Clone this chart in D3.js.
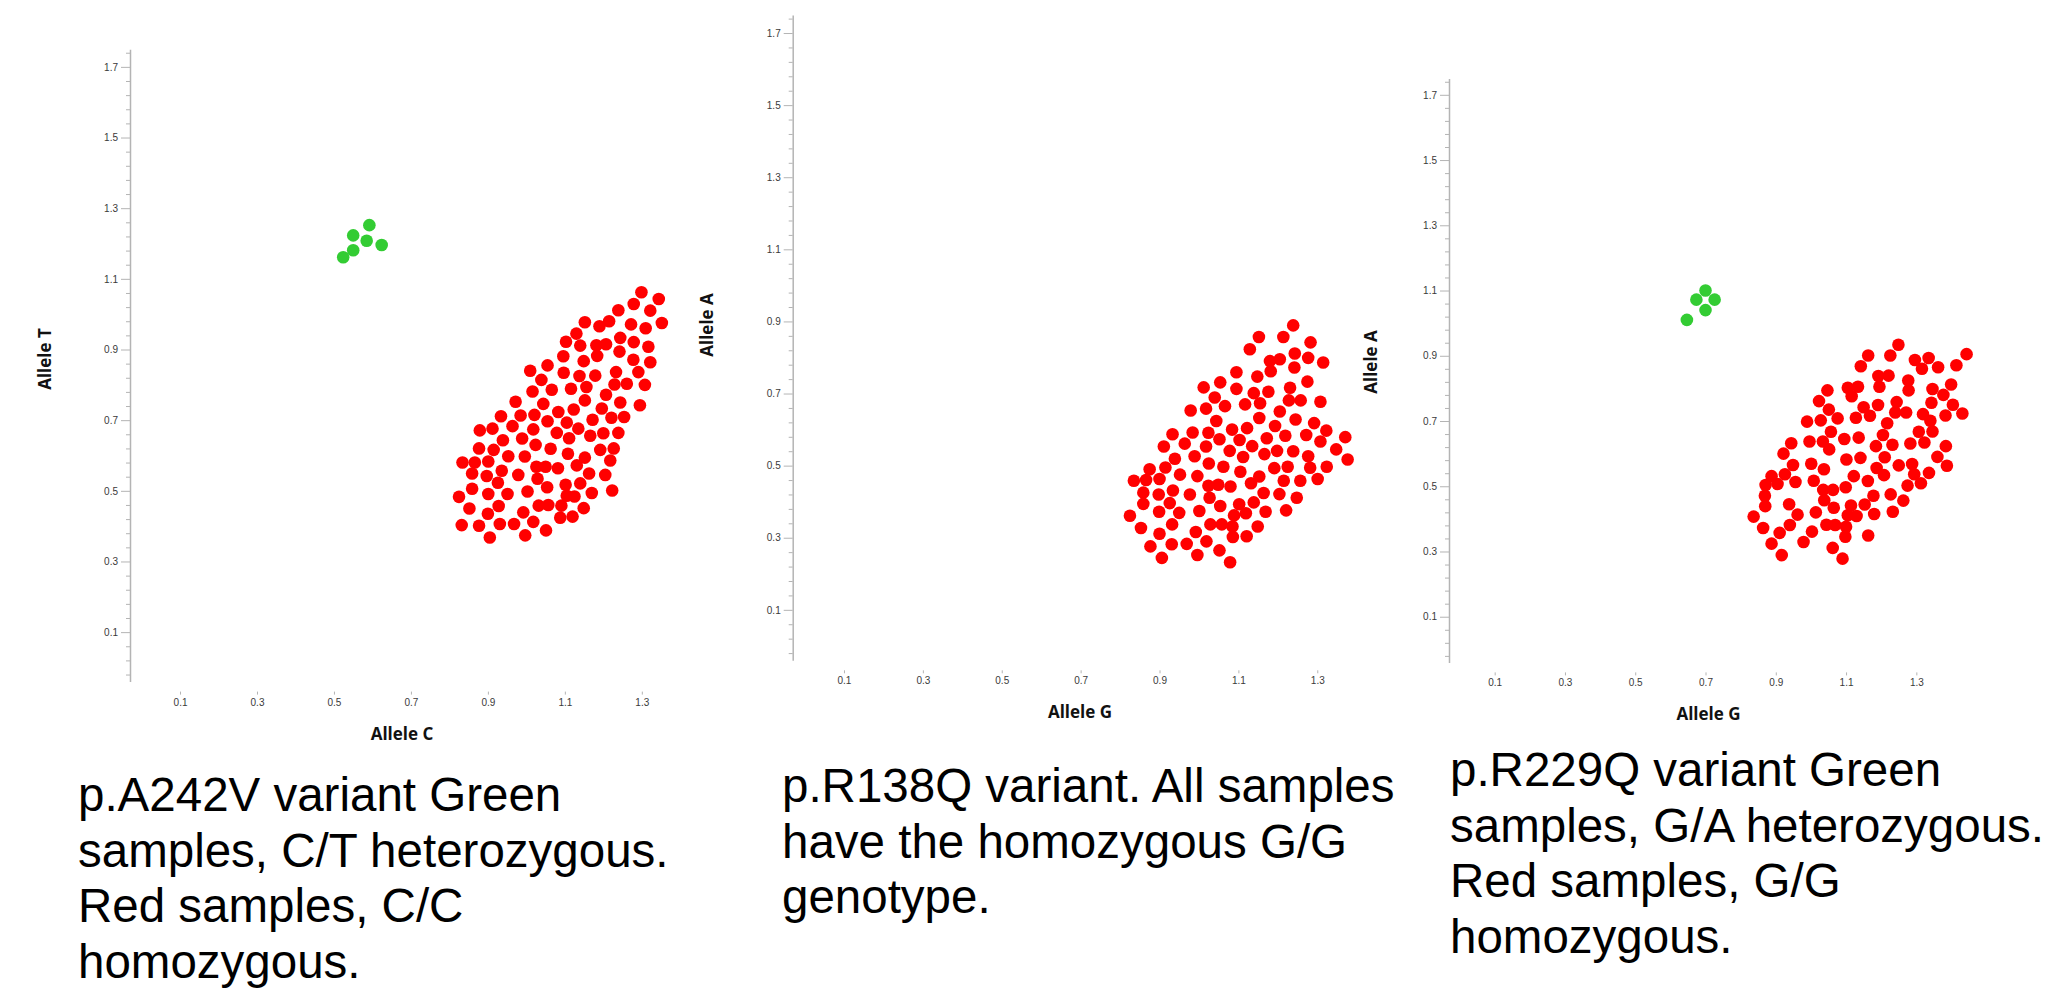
<!DOCTYPE html>
<html>
<head>
<meta charset="utf-8">
<script src="https://cdn.jsdelivr.net/npm/d3@7"></script>
<style>
body { margin: 0; background: #fff; }
</style>
</head>
<body>
<div id="chart"></div>
<script>
// axis settings shared by the three genotype plots
var xDomain = [-0.03, 1.42];
var yDomain = [-0.04, 1.75];
var xTickValues = [0.1, 0.3, 0.5, 0.7, 0.9, 1.1, 1.3];
var yTickValues = [0.1, 0.3, 0.5, 0.7, 0.9, 1.1, 1.3, 1.5, 1.7];

// p.A242V  (Allele C vs Allele T)
var a242vGreen = [[0.592,1.252],[0.550,1.223],[0.585,1.208],[0.624,1.196],[0.550,1.181],[0.524,1.161]];
var a242vRed = [
  [1.299,1.062],[1.344,1.043],[1.279,1.029],[1.239,1.011],[1.322,1.010],[1.152,0.977],[1.190,0.966],
  [1.215,0.980],[1.272,0.971],[1.310,0.960],[1.352,0.975],[1.130,0.945],[1.103,0.922],[1.140,0.911],
  [1.182,0.912],[1.207,0.915],[1.244,0.933],[1.279,0.921],[1.317,0.908],[1.096,0.881],[1.149,0.867],
  [1.184,0.882],[1.242,0.894],[1.278,0.871],[1.322,0.864],[1.055,0.855],[1.010,0.840],[1.097,0.834],
  [1.138,0.825],[1.179,0.826],[1.233,0.836],[1.291,0.836],[1.039,0.814],[1.016,0.781],[1.066,0.786],
  [1.116,0.789],[1.156,0.794],[1.207,0.772],[1.229,0.801],[1.261,0.803],[1.308,0.800],[0.972,0.752],
  [1.044,0.746],[1.123,0.730],[1.152,0.756],[1.196,0.733],[1.244,0.750],[1.295,0.742],[0.934,0.711],
  [0.985,0.713],[1.021,0.715],[1.055,0.697],[1.083,0.723],[1.105,0.693],[1.172,0.701],[1.221,0.707],
  [1.254,0.709],[0.879,0.671],[0.912,0.676],[0.964,0.683],[1.018,0.674],[1.079,0.664],[1.111,0.649],
  [1.135,0.676],[1.166,0.656],[1.200,0.663],[1.239,0.664],[0.989,0.648],[1.024,0.630],[0.877,0.620],
  [0.915,0.616],[0.939,0.643],[0.953,0.598],[0.996,0.597],[1.063,0.619],[1.108,0.605],[1.152,0.594],
  [1.192,0.616],[1.227,0.620],[0.834,0.580],[0.866,0.580],[0.901,0.583],[0.859,0.549],[0.897,0.542],
  [0.936,0.557],[0.979,0.545],[1.026,0.568],[1.050,0.568],[1.082,0.564],[1.131,0.572],[1.163,0.549],
  [1.205,0.545],[1.218,0.586],[0.926,0.523],[1.029,0.534],[1.054,0.510],[1.102,0.517],[1.140,0.521],
  [0.859,0.506],[0.901,0.491],[0.951,0.491],[1.003,0.498],[1.105,0.486],[1.170,0.494],[1.223,0.501],
  [0.825,0.483],[0.852,0.450],[0.928,0.457],[0.992,0.439],[1.032,0.458],[1.057,0.460],[1.091,0.458],
  [1.125,0.484],[0.900,0.435],[1.088,0.424],[1.120,0.427],[1.149,0.451],[0.832,0.403],[0.877,0.401],
  [0.931,0.406],[0.968,0.406],[1.018,0.412],[0.905,0.368],[0.997,0.374],[1.051,0.388]
];

// p.R138Q  (Allele G vs Allele A)
var r138qGreen = [];
var r138qRed = [
  [1.239,0.889],[1.152,0.857],[1.214,0.857],[1.283,0.842],[1.129,0.823],[1.243,0.811],[1.180,0.790],
  [1.205,0.795],[1.277,0.799],[1.315,0.786],[1.095,0.759],[1.148,0.747],[1.242,0.772],[1.182,0.762],
  [1.054,0.731],[1.012,0.717],[1.095,0.713],[1.139,0.701],[1.176,0.705],[1.231,0.716],[1.275,0.733],
  [1.040,0.689],[1.117,0.670],[1.155,0.673],[1.228,0.681],[1.258,0.681],[1.308,0.677],[1.066,0.665],
  [0.979,0.653],[1.018,0.658],[1.205,0.650],[1.044,0.624],[1.153,0.632],[1.245,0.628],[1.292,0.618],
  [1.193,0.610],[0.933,0.587],[0.984,0.592],[1.024,0.591],[1.084,0.600],[1.122,0.604],[1.219,0.583],
  [1.272,0.585],[1.323,0.597],[0.911,0.553],[0.964,0.561],[1.018,0.553],[1.052,0.573],[1.103,0.571],
  [1.135,0.554],[1.172,0.576],[1.308,0.567],[1.371,0.579],[1.348,0.545],[0.939,0.519],[0.989,0.526],
  [1.078,0.541],[1.112,0.524],[1.166,0.532],[1.198,0.541],[1.239,0.540],[1.277,0.526],[1.377,0.517],
  [0.875,0.490],[0.915,0.495],[0.952,0.475],[1.025,0.506],[1.062,0.497],[1.105,0.483],[1.153,0.470],
  [1.191,0.493],[1.225,0.497],[1.282,0.494],[1.324,0.497],[0.835,0.458],[0.866,0.460],[0.900,0.463],
  [0.996,0.471],[1.024,0.444],[1.049,0.447],[1.132,0.451],[1.215,0.458],[1.257,0.458],[1.301,0.463],
  [0.859,0.425],[0.898,0.420],[0.934,0.431],[0.977,0.420],[1.027,0.411],[1.080,0.442],[1.164,0.424],
  [1.204,0.421],[1.248,0.411],[0.859,0.394],[0.926,0.396],[1.054,0.388],[1.102,0.393],[1.139,0.398],
  [1.169,0.372],[0.825,0.361],[0.899,0.372],[0.950,0.369],[1.001,0.374],[1.089,0.362],[1.119,0.368],
  [1.221,0.376],[0.932,0.337],[1.029,0.337],[1.058,0.337],[1.085,0.331],[1.149,0.331],[0.853,0.327],
  [0.900,0.311],[0.992,0.316],[1.086,0.302],[1.121,0.304],[0.877,0.276],[0.931,0.282],[0.969,0.283],
  [1.019,0.290],[1.052,0.265],[0.906,0.244],[0.996,0.252],[1.079,0.232]
];

// p.R229Q  (Allele G vs Allele A)
var r229qGreen = [[0.700,1.100],[0.674,1.072],[0.726,1.072],[0.700,1.040],[0.647,1.010]];
var r229qRed = [
  [1.249,0.934],[1.163,0.901],[1.226,0.901],[1.296,0.887],[1.335,0.893],[1.443,0.905],[1.142,0.868],
  [1.362,0.865],[1.414,0.871],[1.192,0.838],[1.221,0.839],[1.277,0.824],[1.316,0.860],[1.105,0.802],
  [1.134,0.805],[1.195,0.805],[1.278,0.794],[1.399,0.812],[1.047,0.794],[1.346,0.798],[1.023,0.761],
  [1.116,0.776],[1.150,0.742],[1.244,0.758],[1.377,0.780],[1.051,0.735],[1.191,0.749],[1.343,0.756],
  [1.404,0.750],[0.989,0.698],[1.028,0.702],[1.076,0.708],[1.128,0.710],[1.168,0.716],[1.217,0.693],
  [1.240,0.726],[1.271,0.726],[1.319,0.721],[1.383,0.717],[1.431,0.723],[1.057,0.667],[1.340,0.701],
  [1.307,0.667],[1.346,0.668],[0.944,0.632],[0.996,0.637],[1.034,0.637],[1.052,0.613],[1.095,0.645],
  [1.136,0.649],[1.185,0.623],[1.205,0.657],[1.232,0.627],[1.283,0.631],[1.323,0.634],[1.384,0.623],
  [0.922,0.600],[1.001,0.569],[1.037,0.552],[1.101,0.582],[1.141,0.587],[1.210,0.589],[1.187,0.556],
  [1.250,0.564],[1.288,0.568],[1.360,0.590],[1.387,0.563],[0.949,0.565],[0.926,0.537],[0.888,0.531],
  [0.956,0.513],[1.008,0.517],[1.122,0.531],[1.162,0.516],[1.208,0.534],[1.294,0.537],[1.336,0.541],
  [1.313,0.509],[0.871,0.504],[0.905,0.507],[1.035,0.489],[1.063,0.489],[1.099,0.497],[1.178,0.471],
  [1.227,0.475],[1.275,0.502],[0.869,0.471],[0.870,0.439],[0.938,0.445],[1.038,0.457],[1.065,0.434],
  [1.114,0.441],[1.153,0.444],[0.962,0.413],[1.014,0.420],[1.105,0.411],[1.130,0.409],[1.180,0.415],
  [1.233,0.422],[1.263,0.456],[0.837,0.407],[0.864,0.372],[0.940,0.381],[1.044,0.382],[1.069,0.381],
  [1.100,0.376],[1.003,0.361],[0.911,0.357],[1.163,0.349],[1.098,0.345],[0.888,0.324],[0.979,0.329],
  [1.062,0.311],[0.917,0.289],[1.090,0.278]
];

var captionA242V = ["p.A242V variant Green", "samples, C/T heterozygous.", "Red samples, C/C", "homozygous."];
var captionR138Q = ["p.R138Q variant. All samples", "have the homozygous G/G", "genotype."];
var captionR229Q = ["p.R229Q variant Green", "samples, G/A heterozygous.", "Red samples, G/G", "homozygous."];

var panels = [
  {xLabel: "Allele C", yLabel: "Allele T", red: a242vRed, green: a242vGreen, caption: captionA242V,
   left: 130, right: 688, bottom: 681.6, top: 49.2,
   xLabelX: 402, yLabelX: 45, yLabelY: 359, captionX: 78, captionY: 811},
  {xLabel: "Allele G", yLabel: "Allele A", red: r138qRed, green: r138qGreen, caption: captionR138Q,
   left: 792.7, right: 1364.6, bottom: 660.3, top: 15,
   xLabelX: 1080, yLabelX: 707, yLabelY: 325, captionX: 782, captionY: 802},
  {xLabel: "Allele G", yLabel: "Allele A", red: r229qRed, green: r229qGreen, caption: captionR229Q,
   left: 1449, right: 1958.5, bottom: 662.4, top: 78.5,
   xLabelX: 1708.5, yLabelX: 1371, yLabelY: 362, captionX: 1450, captionY: 786}
];

var svgWidth = 2060;
var svgHeight = 989;
var dotRadius = 6.3;
var lineGap = 55.5;
var axisGrey = "#b4b4b4";

var svg = d3.select("#chart")
    .append("svg")
    .attr("width", svgWidth)
    .attr("height", svgHeight);

var minorValues = d3.range(-0.02, 1.76, 0.04).filter(function(v) {
  return !yTickValues.some(function(t) { return Math.abs(t - v) < 0.001; });
});

panels.forEach(function(p) {
  var g = svg.append("g");

  var xScale = d3.scaleLinear().domain(xDomain).range([p.left, p.right]);
  var yScale = d3.scaleLinear().domain(yDomain).range([p.bottom, p.top]);

  // minor ticks first, then major ticks with the axis line
  var minorAxis = d3.axisLeft(yScale)
      .tickValues(minorValues)
      .tickSize(4)
      .tickFormat("");
  g.append("g")
      .attr("transform", "translate(" + p.left + ",0)")
      .call(minorAxis)
      .call(function(s) { s.select(".domain").remove(); });

  var yAxis = d3.axisLeft(yScale)
      .tickValues(yTickValues)
      .tickSize(9)
      .tickSizeOuter(0)
      .tickPadding(3)
      .tickFormat(d3.format(".1f"));
  g.append("g")
      .attr("class", "yAxis")
      .attr("transform", "translate(" + p.left + ",0)")
      .call(yAxis);

  var xAxis = d3.axisBottom(xScale)
      .tickValues(xTickValues)
      .tickSize(3)
      .tickSizeOuter(0)
      .tickPadding(4)
      .tickFormat(d3.format(".1f"));
  g.append("g")
      .attr("class", "xAxis")
      .attr("transform", "translate(0," + (p.bottom + 10) + ")")
      .call(xAxis)
      .call(function(s) { s.select(".domain").remove(); });

  g.selectAll(".domain").attr("stroke", axisGrey).attr("stroke-width", 1.5);
  g.selectAll(".tick line").attr("stroke", axisGrey).attr("stroke-width", 1);
  g.selectAll(".tick text")
      .attr("fill", "#3a3a3a")
      .style("font-family", "'Liberation Sans', Arial, sans-serif")
      .style("font-size", "10px");

  g.append("text")
      .attr("x", p.xLabelX)
      .attr("y", p.bottom + 58)
      .attr("text-anchor", "middle")
      .style("font-family", "'Open Sans', sans-serif")
      .style("font-weight", "bold")
      .style("font-size", "17px")
      .attr("fill", "#111")
      .text(p.xLabel);

  g.append("text")
      .attr("transform", "translate(" + (p.yLabelX + 6) + "," + p.yLabelY + ") rotate(-90)")
      .attr("text-anchor", "middle")
      .style("font-family", "'Open Sans', sans-serif")
      .style("font-weight", "bold")
      .style("font-size", "17px")
      .attr("fill", "#111")
      .text(p.yLabel);

  g.selectAll("circle.red")
      .data(p.red)
      .enter()
      .append("circle")
      .attr("class", "red")
      .attr("cx", function(d) { return xScale(d[0]); })
      .attr("cy", function(d) { return yScale(d[1]); })
      .attr("r", dotRadius)
      .attr("fill", "#ff0000");

  g.selectAll("circle.green")
      .data(p.green)
      .enter()
      .append("circle")
      .attr("class", "green")
      .attr("cx", function(d) { return xScale(d[0]); })
      .attr("cy", function(d) { return yScale(d[1]); })
      .attr("r", dotRadius)
      .attr("fill", "#33cc33");

  var cap = g.append("text")
      .style("font-family", "'Liberation Sans', Arial, sans-serif")
      .style("font-size", "47.5px")
      .attr("fill", "#000");
  cap.selectAll("tspan")
      .data(p.caption)
      .enter()
      .append("tspan")
      .attr("x", p.captionX)
      .attr("y", function(d, i) { return p.captionY + i * lineGap; })
      .text(function(d) { return d; });
});
</script>
</body>
</html>
